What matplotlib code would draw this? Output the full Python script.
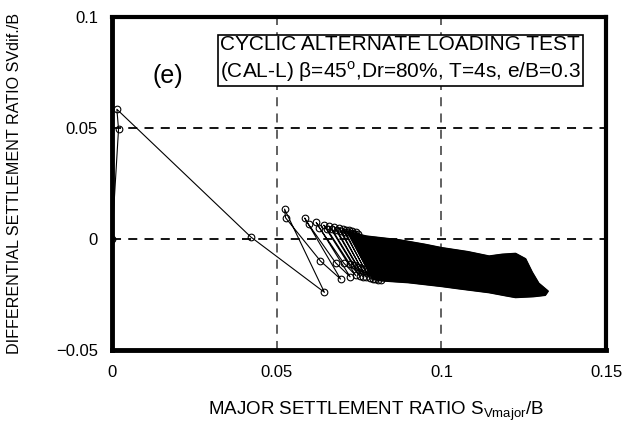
import numpy as np
import matplotlib
matplotlib.use("Agg")
import matplotlib.pyplot as plt

plt.rcParams["font.family"] = ["Liberation Sans", "DejaVu Sans"]
plt.rcParams["mathtext.fontset"] = "custom"
plt.rcParams["mathtext.rm"] = "Liberation Sans"

# first loading steps
start_x = [0.0, 0.0020, 0.0015, 0.0422]
start_y = [0.0, 0.0495, 0.0585, 0.0009]

# early cycles (trough a, peak a, peak b, trough b)
trough_a_x = [0.0645, 0.0694, 0.0723, 0.0740, 0.0752, 0.0762, 0.0772, 0.0782, 0.0792, 0.0800, 0.0808, 0.0816]
trough_a_y = [-0.0240, -0.0180, -0.0170, -0.0164, -0.0167, -0.0170, -0.0172, -0.0175, -0.0178, -0.0180, -0.0183, -0.0186]
peak_a_x = [0.0524, 0.0585, 0.0620, 0.0643, 0.0660, 0.0675, 0.0688, 0.0700, 0.0710, 0.0720, 0.0730, 0.0740]
peak_a_y = [0.0135, 0.0095, 0.0075, 0.0063, 0.0058, 0.0054, 0.0050, 0.0046, 0.0043, 0.0040, 0.0037, 0.0034]
peak_b_x = [0.0527, 0.0597, 0.0630, 0.0652, 0.0668, 0.0683, 0.0696, 0.0708, 0.0718, 0.0728, 0.0738, 0.0748]
peak_b_y = [0.0096, 0.0066, 0.0051, 0.0047, 0.0044, 0.0040, 0.0037, 0.0034, 0.0031, 0.0028, 0.0025, 0.0022]
trough_b_x = [0.0633, 0.0679, 0.0703, 0.0722, 0.0735, 0.0746, 0.0756, 0.0766, 0.0776, 0.0785, 0.0794, 0.0802]
trough_b_y = [-0.0099, -0.0107, -0.0107, -0.0112, -0.0118, -0.0124, -0.0130, -0.0135, -0.0140, -0.0145, -0.0150, -0.0155]

# outline of the dense band of later cycles
band_x = [0.0715, 0.0773, 0.0873, 0.0950, 0.1000, 0.1080, 0.1145, 0.1184, 0.1225, 0.1255, 0.1275, 0.1295, 0.1323,
          0.1315, 0.1280, 0.1225, 0.1195, 0.1145, 0.1050, 0.1000, 0.0900, 0.0850, 0.0813, 0.0790]
band_y = [0.0032, 0.0012, -0.0005, -0.0025, -0.0040, -0.0058, -0.0078, -0.0070, -0.0066, -0.0090, -0.0150, -0.0200, -0.0235,
          -0.0252, -0.0258, -0.0262, -0.0254, -0.0240, -0.0222, -0.0212, -0.0195, -0.0190, -0.0186, -0.0178]

x_ticks = [0, 0.05, 0.1, 0.15]
x_labels = ["0", "0.05", "0.1", "0.15"]
y_ticks = [-0.05, 0, 0.05, 0.1]
y_labels = ["\u22120.05", "0", "0.05", "0.1"]

xs = list(start_x)
ys = list(start_y)
for k in range(len(trough_a_x)):
    xs += [trough_a_x[k], peak_a_x[k], peak_b_x[k], trough_b_x[k]]
    ys += [trough_a_y[k], peak_a_y[k], peak_b_y[k], trough_b_y[k]]

fig = plt.figure(figsize=(6.36, 4.3), dpi=100)
ax = fig.add_axes([0.176, 0.186, 0.777, 0.774])

ax.set_xlim(0, 0.15)
ax.set_ylim(-0.05, 0.1)

for xv in [0.05, 0.1]:
    ax.axvline(xv, color="#555555", linestyle=(0, (5, 4)), linewidth=1.3, zorder=1)
for yv in [0, 0.05]:
    ax.axhline(yv, color="black", linestyle=(0, (5, 4)), linewidth=1.3, zorder=1)

ax.fill(band_x, band_y, color="black", zorder=3)
ax.plot(band_x, band_y, color="black", linewidth=1.5, zorder=3)

ax.plot(xs, ys, color="black", linewidth=0.8, marker="o", markersize=4.8,
        markerfacecolor="none", markeredgewidth=0.8, zorder=4)

ax.set_xticks(x_ticks)
ax.set_xticklabels(x_labels)
ax.set_yticks(y_ticks)
ax.set_yticklabels(y_labels)
ax.tick_params(axis="both", length=0, labelsize=12)
ax.tick_params(axis="x", pad=11)
ax.tick_params(axis="y", pad=10)

for side in ["left", "bottom"]:
    ax.spines[side].set_linewidth(3.5)
for side in ["top", "right"]:
    ax.spines[side].set_linewidth(3)

ax.set_ylabel("DIFFERENTIAL SETTLEMENT RATIO SVdif./B", fontsize=11.6, va="center")
ax.set_xlabel(r"MAJOR SETTLEMENT RATIO S$_{\mathregular{Vmajor}}$/B", fontsize=13.5, va="center")
ax.yaxis.set_label_coords(-0.198, 0.5)
ax.xaxis.set_label_coords(0.535, -0.185)

ax.text(0.113, 0.823, "(e)", transform=ax.transAxes, fontsize=18,
        ha="center", va="center")

ax.text(0.583, 0.872,
        "CYCLIC ALTERNATE LOADING TEST\n"
        "(CAL-L) \u03b2=45$^{\\mathregular{o}}$,Dr=80%, T=4s, e/B=0.3",
        transform=ax.transAxes, fontsize=15, ha="center", va="center",
        linespacing=1.3,
        bbox=dict(boxstyle="square,pad=0.1", facecolor="white", edgecolor="black", linewidth=1.2),
        zorder=5)

fig.savefig("out.png", dpi=100)
